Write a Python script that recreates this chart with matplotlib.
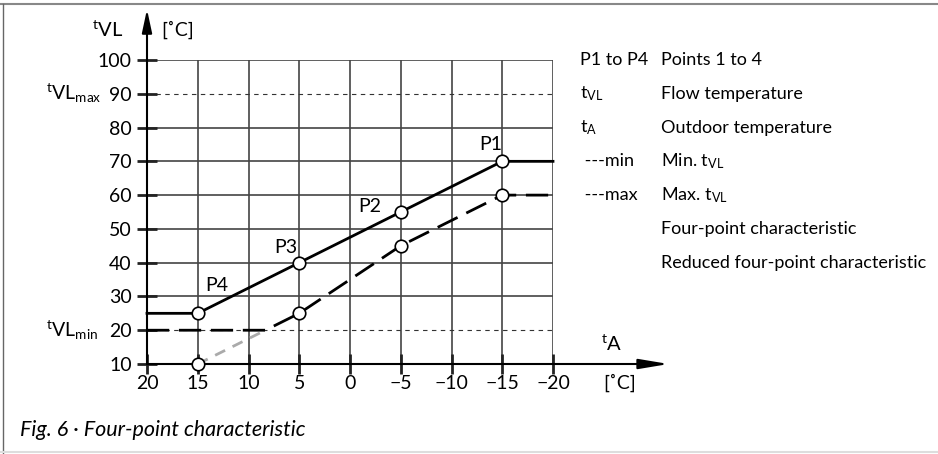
import numpy as np
import matplotlib.pyplot as plt
from matplotlib.lines import Line2D

plt.rcParams['font.family'] = ['Lato', 'DejaVu Sans']
plt.rcParams['mathtext.fontset'] = 'custom'
plt.rcParams['mathtext.rm'] = 'Lato'
plt.rcParams['mathtext.it'] = 'Lato'

# outdoor temperature ticks (axis runs from +20 down to -20)
x_ticks = [20, 15, 10, 5, 0, -5, -10, -15, -20]
x_labels = ['20', '15', '10', '5', '0', '\u22125', '\u221210', '\u221215', '\u221220']
y_ticks = [10, 20, 30, 40, 50, 60, 70, 80, 90, 100]

# four-point characteristic
fp_x = [20, 15, 5, -5, -15, -20]
fp_y = [25, 25, 40, 55, 70, 70]
pt_x = [15, 5, -5, -15]
pt_y = [25, 40, 55, 70]
pt_names = ['P4', 'P3', 'P2', 'P1']

# reduced four-point characteristic
red_x = [15, 5, -5, -15]
red_y = [10, 25, 45, 60]
t_min = 20
t_max = 90

legend_keys = ['P1 to P4', r'$\mathrm{t}_{\mathrm{VL}}$', r'$\mathrm{t}_{\mathrm{A}}$', ' ---min', ' ---max', '', '']
legend_text = ['Points 1 to 4', 'Flow temperature', 'Outdoor temperature',
               r'Min. $\mathrm{t}_{\mathrm{VL}}$', r'Max. $\mathrm{t}_{\mathrm{VL}}$',
               'Four-point characteristic', 'Reduced four-point characteristic']

W, H = 938, 454
fig = plt.figure(figsize=(W / 100, H / 100), dpi=100)
ax = fig.add_axes([147 / W, (H - 364) / H, 406 / W, 304 / H])
ax.set_xlim(20, -20)
ax.set_ylim(10, 100)
for s in ax.spines.values():
    s.set_visible(False)

grid_c = '#444444'
# grid
for xv in x_ticks[1:]:
    ax.plot([xv, xv], [10, 100], color=grid_c, lw=1.2, zorder=1)
for yv in [30, 40, 50, 60, 70, 80, 100]:
    ax.plot([20, -20], [yv, yv], color=grid_c, lw=1.2, zorder=1)
for yv in [t_min, t_max]:
    ax.plot([20, -20], [yv, yv], color='#333333', lw=0.8, dashes=(4, 4), zorder=1)

# axes with arrows
ax.annotate('', xy=(20, 115), xytext=(20, 10), annotation_clip=False,
            arrowprops=dict(arrowstyle='-|>,head_length=1.4,head_width=0.3', color='black', lw=1.5,
                            shrinkA=0, shrinkB=0))
ax.annotate('', xy=(-31.4, 10), xytext=(20, 10), annotation_clip=False,
            arrowprops=dict(arrowstyle='-|>,head_length=1.8,head_width=0.3', color='black', lw=1.5,
                            shrinkA=0, shrinkB=0))

ax.set_xticks(x_ticks)
ax.set_xticklabels(x_labels)
ax.set_yticks(y_ticks)
ax.tick_params(direction='inout', length=14, width=2, color='#222222', labelsize=14, pad=1)
ax.tick_params(axis='y', pad=4)

# curves
ax.plot(fp_x, fp_y, color='black', lw=2, zorder=3, clip_on=False)
ax.plot(pt_x, pt_y, 'o', ms=9, mfc='white', mec='black', mew=1.2, zorder=5, clip_on=False)

k = (red_y[1] - red_y[0]) / (red_x[1] - red_x[0])
x_cross = red_x[0] + (t_min - red_y[0]) / k
ax.plot([red_x[0], x_cross], [red_y[0], t_min], color='#aaaaaa', lw=2, dashes=(4, 3), zorder=2)
ax.plot([20, x_cross] + red_x[1:] + [-20], [t_min, t_min] + red_y[1:] + [red_y[-1]],
        color='black', lw=2, dashes=(8, 3.5), zorder=3, clip_on=False)
ax.plot(red_x, red_y, 'o', ms=9, mfc='white', mec='black', mew=1.2, zorder=5, clip_on=False)

# label offsets in pixels (right, up)
offsets = {'P4': (19, 28), 'P3': (-13, 15), 'P2': (-31, 5), 'P1': (-12, 17)}
for xv, yv, name in zip(pt_x, pt_y, pt_names):
    dx, dy = offsets[name]
    ax.annotate(name, (xv, yv), xytext=(dx * 0.72, dy * 0.72), textcoords='offset points',
                ha='center', va='center', fontsize=14)

# axis labels
fig.text(108 / W, 1 - 30 / H, r'$^{\mathrm{t}}\mathrm{VL}$', fontsize=14.5, ha='center', va='center')
fig.text(178 / W, 1 - 30 / H, '[\u02daC]', fontsize=14, ha='center', va='center')
fig.text(612 / W, 1 - 344 / H, r'$^{\mathrm{t}}\mathrm{A}$', fontsize=14.5, ha='center', va='center')
fig.text(620 / W, 1 - 383 / H, '[\u02daC]', fontsize=14, ha='center', va='center')
fig.text(46 / W, 1 - 93 / H, r'$^{\mathrm{t}}\mathrm{VL}_{\mathrm{max}}$', fontsize=14, ha='left', va='center')
fig.text(46 / W, 1 - 330 / H, r'$^{\mathrm{t}}\mathrm{VL}_{\mathrm{min}}$', fontsize=14, ha='left', va='center')

# explanation list
rows = [100, 90, 80, 70, 60, 50, 40]
for yv, key, txt in zip(rows, legend_keys, legend_text):
    ax.annotate(key, (580 / W, yv), xycoords=('figure fraction', 'data'),
                ha='left', va='center', fontsize=13)
    ax.annotate(txt, (661 / W, yv), xycoords=('figure fraction', 'data'),
                ha='left', va='center', fontsize=13)

fig.text(20 / W, 1 - 430 / H, 'Fig. 6 \u00b7 Four-point characteristic', fontsize=15.5,
         style='italic', ha='left', va='center')

# frame
fig.add_artist(Line2D([0, 1], [1 - 4 / H, 1 - 4 / H], transform=fig.transFigure, color='#888888', lw=1.5))
fig.add_artist(Line2D([3 / W, 3 / W], [0, 1 - 4 / H], transform=fig.transFigure, color='#666666', lw=1))
fig.add_artist(Line2D([0, 1], [2 / H, 2 / H], transform=fig.transFigure, color='#dddddd', lw=1.5))

fig.savefig('out.png', dpi=100)
